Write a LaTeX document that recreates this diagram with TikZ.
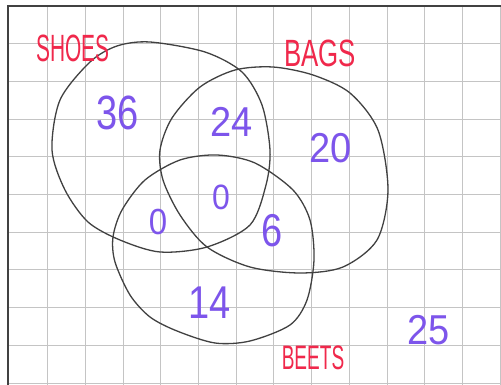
\documentclass[tikz,border=0pt]{standalone}
\usepackage{fontspec}
\setmainfont{Liberation Sans}
\definecolor{inkgrey}{RGB}{65,65,65}
\definecolor{gridgrey}{RGB}{196,196,196}
\definecolor{rosered}{RGB}{240,40,75}
\definecolor{lilac}{RGB}{125,85,235}
\tikzset{
  tally/.style={text=lilac,font=\fontsize{38}{38}\selectfont,inner sep=0pt,yscale=1.1},
  setname/.style={text=rosered,font=\fontsize{38}{38}\selectfont,inner sep=0pt},
  ring/.style={draw=inkgrey,line width=1.3pt}
}
\begin{document}
\begin{tikzpicture}[x=1pt,y=-1pt]
        \useasboundingbox (0,0) rectangle (501,385);
        \fill[white] (0,0) rectangle (501,385);
        % squared paper
        \foreach \k in {1,...,13} \draw[gridgrey,line width=1pt] (10+\k*37.7,6) -- (10+\k*37.7,385);
        \foreach \k in {1,...,10} \draw[gridgrey,line width=1pt] (8,6+\k*37.7) -- (501,6+\k*37.7);
        \draw[inkgrey,line width=1.6pt] (8,385) -- (8,6) -- (501,6);
        % the three sets
        \draw[ring] plot[smooth cycle] coordinates {(150,42) (205,52) (242,72) (262,105) (270,150) (266,185)
          (250,225) (207,247) (160,252) (120,240) (88,222) (65,190) (52,150) (60,100) (90,62) (117,46)};
        \draw[ring] plot[smooth cycle] coordinates {(273,67) (313,75) (350,93) (378,130) (388,190) (377,240)
          (343,267) (300,273) (250,267) (207,247) (180,215) (163,180) (160,150) (172,118) (200,87) (235,70)};
        \draw[ring] plot[smooth cycle] coordinates {(217,155) (255,163) (293,190) (310,220) (314,260) (307,300)
          (290,325) (250,341) (215,343) (177,331) (150,317) (130,295) (115,262) (113,237) (122,210) (145,180) (180,160)};
        % set names
        \node[setname,xscale=0.55] (shoes) at (73,48) {SHOES};
        \node[setname,xscale=0.68] (bags) at (320,53) {BAGS};
        \node[setname,xscale=0.56,font=\fontsize{34}{34}\selectfont] (beets) at (313,358) {BEETS};
        % counts
        \node[tally,yscale=1.15] (shoesonly) at (118,113) {36};
        \node[tally] (shoesbags) at (232,122) {24};
        \node[tally] (bagsonly) at (331,148) {20};
        \node[tally,font=\fontsize{32}{32}\selectfont] (allthree) at (221,197) {0};
        \node[tally,font=\fontsize{33}{33}\selectfont] (shoesbeets) at (158,222) {0};
        \node[tally,yscale=1.1] (bagsbeets) at (272,231) {6};
        \node[tally,yscale=1.1] (beetsonly) at (210,303) {14};
        \node[tally] (noneofthem) at (429,330) {25};
      \end{tikzpicture}
\end{document}
